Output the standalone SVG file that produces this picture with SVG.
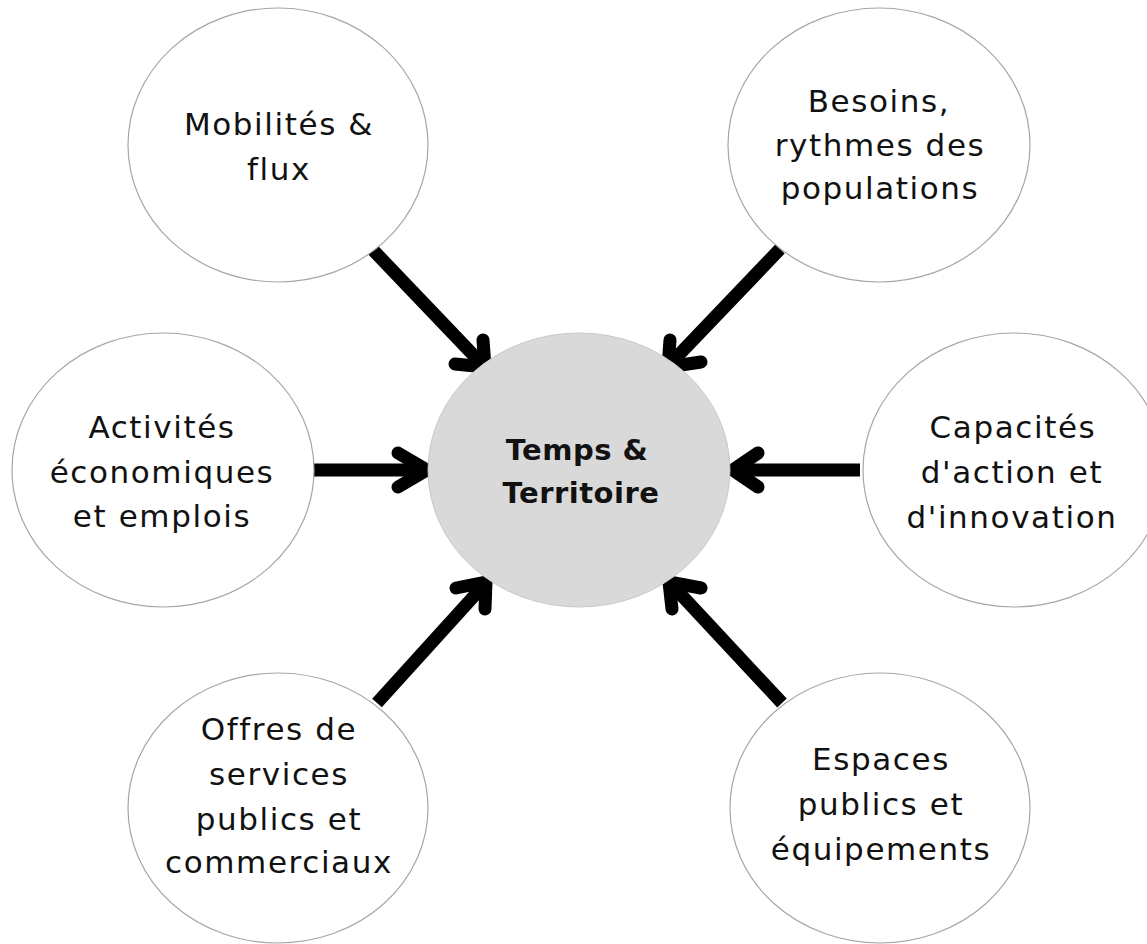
<svg xmlns="http://www.w3.org/2000/svg" width="1147" height="944" viewBox="0 0 1147 944">
<style>
.node{fill:#ffffff;stroke:#a6a6a6;stroke-width:1.2}
.core{fill:#d9d9d9;stroke:#c8c8c8;stroke-width:1}
.lbl{font-family:"DejaVu Sans","Noto Sans",sans-serif;font-size:31px;letter-spacing:1.6px;fill:#111111;text-anchor:middle}
.bold{font-family:"DejaVu Sans","Noto Sans",sans-serif;font-size:29px;font-weight:bold;letter-spacing:0.5px;fill:#111;text-anchor:middle}
.shaft{stroke:#000;stroke-width:13;fill:none;stroke-linecap:butt}
.head{stroke:#000;stroke-width:13;fill:none;stroke-linecap:round;stroke-linejoin:round}
</style>
<rect width="1147" height="944" fill="#ffffff"/>
<g id="connectors">
<line class="shaft" x1="373" y1="250" x2="481" y2="363"/>
<polyline class="head" points="483,340 485,367 455,364"/>
<line class="shaft" x1="780" y1="249" x2="671" y2="363"/>
<polyline class="head" points="670,340 668,367 701,362"/>
<line class="shaft" x1="312" y1="470" x2="424" y2="470"/>
<polyline class="head" points="398,453 427,470 398,487"/>
<line class="shaft" x1="860" y1="470" x2="736" y2="470"/>
<polyline class="head" points="758,453 733,470 758,487"/>
<line class="shaft" x1="377" y1="703" x2="484" y2="585"/>
<polyline class="head" points="456,588 486,582 485,609"/>
<line class="shaft" x1="782" y1="703" x2="672" y2="585"/>
<polyline class="head" points="701,588 669,582 672,609"/>
</g>
<g id="center">
<ellipse class="core" cx="579" cy="470" rx="151" ry="137"/>
<text class="bold" x="577" y="460">Temps &amp;</text>
<text class="bold" x="581" y="503">Territoire</text>
</g>
<g id="mobilites">
<ellipse class="node" cx="278" cy="145" rx="150" ry="137"/>
<text class="lbl" x="279" y="135">Mobilités &amp;</text>
<text class="lbl" x="279" y="180">flux</text>
</g>
<g id="besoins">
<ellipse class="node" cx="879" cy="145" rx="151" ry="137"/>
<text class="lbl" x="879" y="112">Besoins,</text>
<text class="lbl" x="880" y="156">rythmes des</text>
<text class="lbl" x="880" y="199">populations</text>
</g>
<g id="activites">
<ellipse class="node" cx="163" cy="470" rx="151" ry="137"/>
<text class="lbl" x="162" y="438">Activités</text>
<text class="lbl" x="162" y="483">économiques</text>
<text class="lbl" x="162" y="527">et emplois</text>
</g>
<g id="capacites">
<ellipse class="node" cx="1014" cy="470" rx="151" ry="137"/>
<text class="lbl" x="1013" y="438">Capacités</text>
<text class="lbl" x="1012" y="483">d'action et</text>
<text class="lbl" x="1012" y="528">d'innovation</text>
</g>
<g id="offres">
<ellipse class="node" cx="278" cy="808" rx="150" ry="135"/>
<text class="lbl" x="279" y="740">Offres de</text>
<text class="lbl" x="279" y="785">services</text>
<text class="lbl" x="279" y="830">publics et</text>
<text class="lbl" x="279" y="873">commerciaux</text>
</g>
<g id="espaces">
<ellipse class="node" cx="880" cy="808" rx="150" ry="135"/>
<text class="lbl" x="881" y="770">Espaces</text>
<text class="lbl" x="881" y="815">publics et</text>
<text class="lbl" x="881" y="860">équipements</text>
</g>
</svg>
